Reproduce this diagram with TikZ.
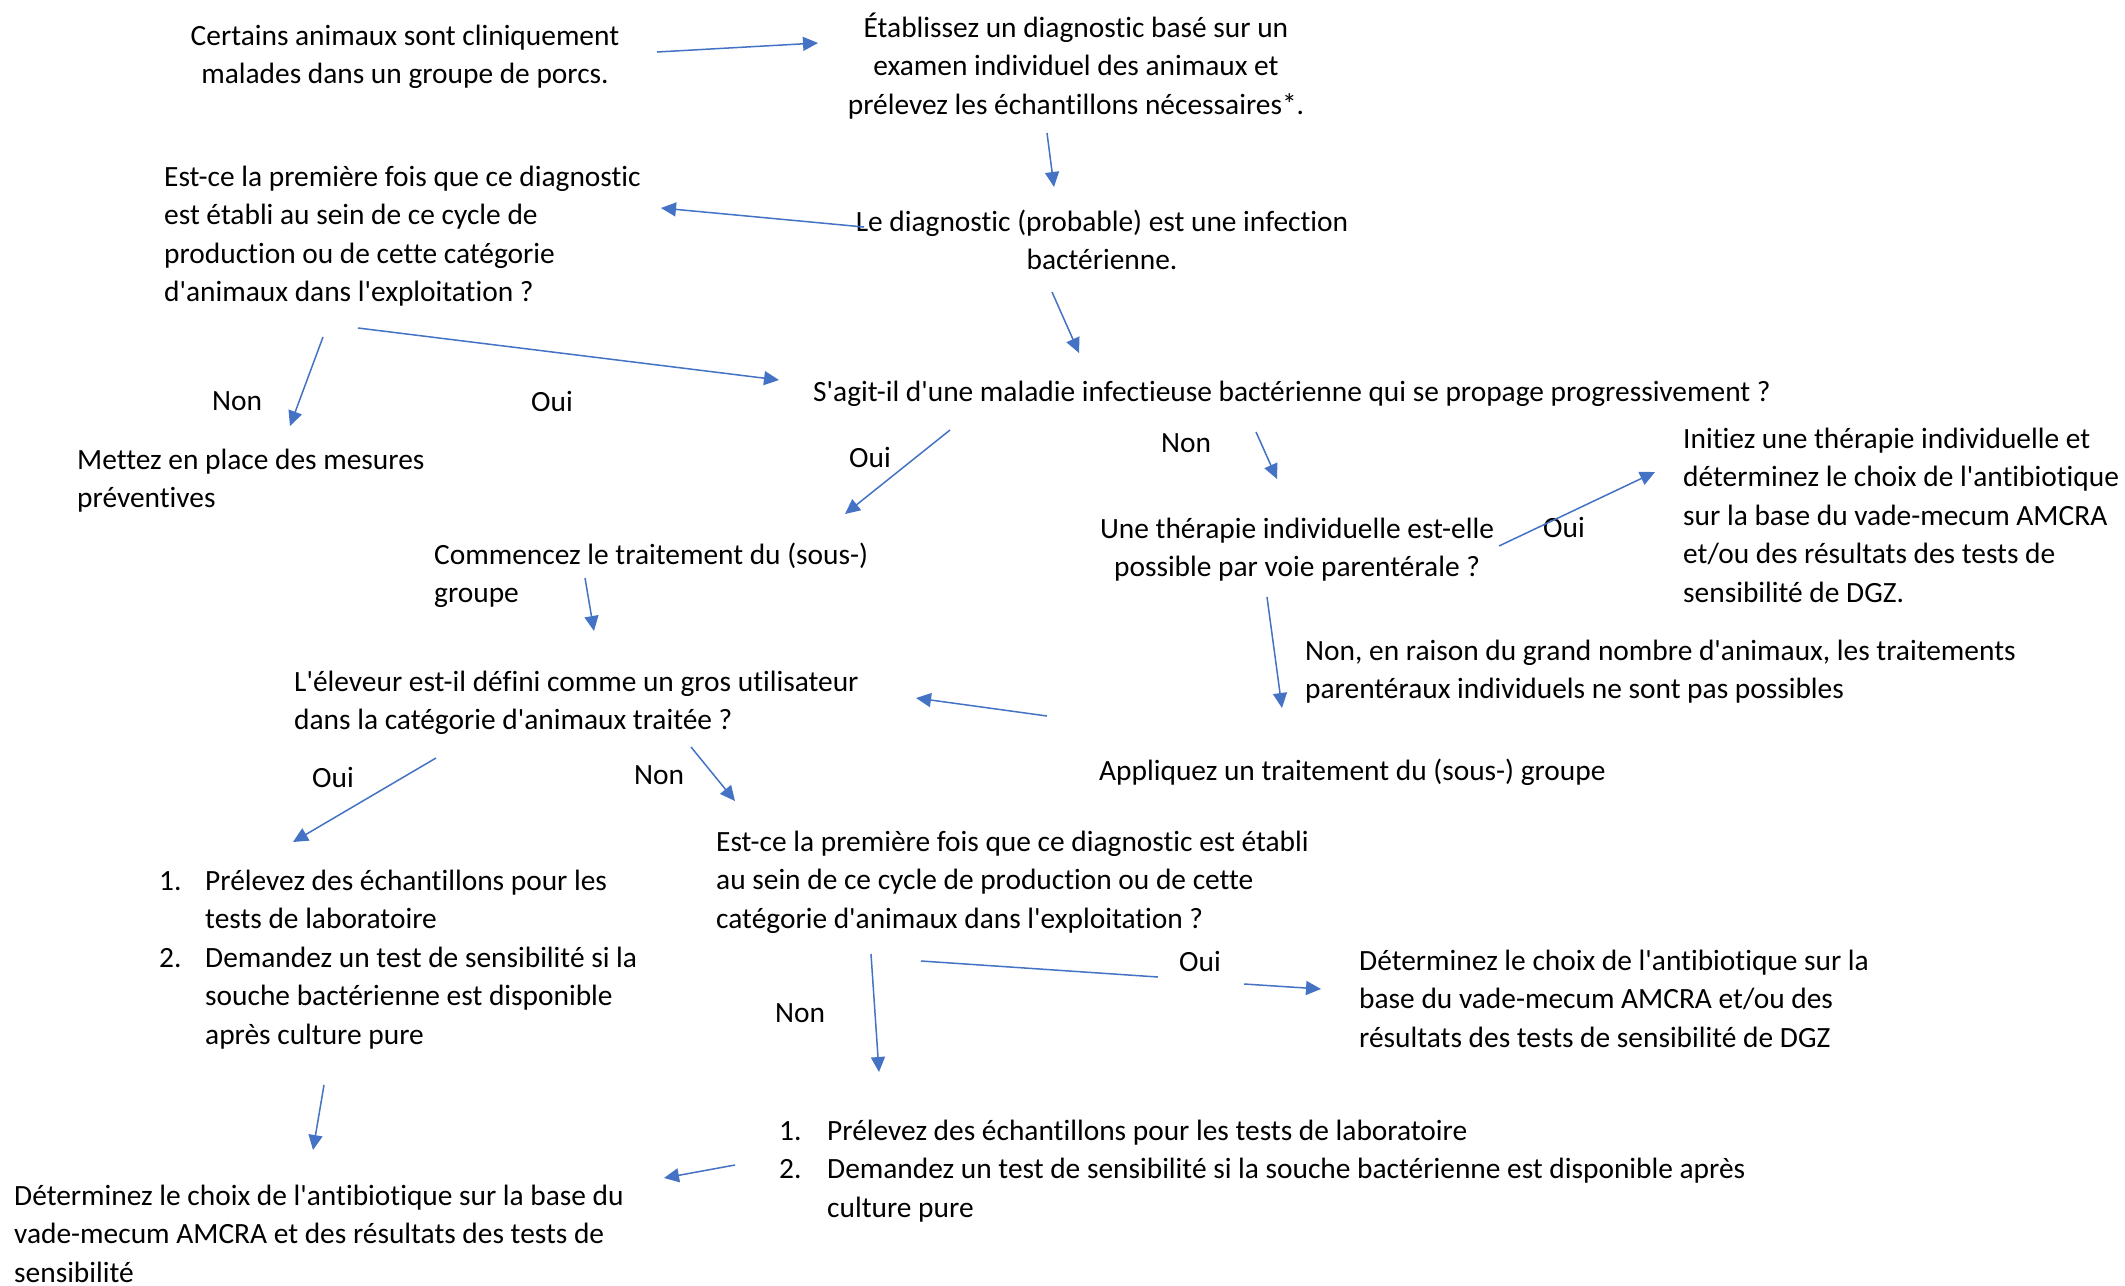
\documentclass[tikz,border=0pt]{standalone}
\usepackage{fontspec}
\setmainfont{Carlito}[Ligatures={TeXOff,NoCommon}]
\usetikzlibrary{arrows.meta}
\definecolor{arrowblue}{HTML}{4472C4}
\tikzset{
  txt/.style={inner sep=0pt, font=\fontsize{29.4pt}{38.6pt}\selectfont, align=left, anchor=base west},
  ctxt/.style={txt, align=center, anchor=base},
  lbl/.style={inner sep=0pt, font=\fontsize{29.4pt}{38.6pt}\selectfont, anchor=center},
  conn/.style={draw=arrowblue, line width=1.5pt, -{Triangle[length=15pt,width=14pt]}},
  plainline/.style={draw=arrowblue, line width=1.5pt},
}
\begin{document}
\begin{tikzpicture}[x=1pt,y=-1pt]
\useasboundingbox[fill=white] (0,0) rectangle (2125,1285);

% text blocks (anchor = baseline of the last line)
\node[ctxt] (n1) at (405,83.6) {Certains animaux sont cliniquement\\malades dans un groupe de porcs.};
\node[ctxt] (n2) at (1076,114.2) {Établissez un diagnostic basé sur un\\examen individuel des animaux et\\prélevez les échantillons nécessaires*.};
\node[ctxt] (n3) at (1102,269.6) {Le diagnostic (probable) est une infection\\bactérienne.};
\node[txt] (n4) at (164,301.8) {Est-ce la première fois que ce diagnostic\\est établi au sein de ce cycle de\\production ou de cette catégorie\\d'animaux dans l'exploitation ?};
\node[txt] (n5) at (813,401) {S'agit-il d'une maladie infectieuse bactérienne qui se propage progressivement ?};
\node[txt] (n6) at (77,507.6) {Mettez en place des mesures\\préventives};
\node[ctxt] (n7) at (1297,576.6) {Une thérapie individuelle est-elle\\possible par voie parentérale ?};
\node[txt] (n8) at (1683,602.4) {Initiez une thérapie individuelle et\\déterminez le choix de l'antibiotique\\sur la base du vade-mecum AMCRA\\et/ou des résultats des tests de\\sensibilité de DGZ.};
\node[txt] (n9) at (1305,698.6) {Non, en raison du grand nombre d'animaux, les traitements\\parentéraux individuels ne sont pas possibles};
\node[txt] (n10) at (1099,780) {Appliquez un traitement du (sous-) groupe};
\node[txt] (n11) at (434,602.6) {Commencez le traitement du (sous-)\\groupe};
\node[txt] (n12) at (294,729.6) {L'éleveur est-il défini comme un gros utilisateur\\dans la catégorie d'animaux traitée ?};
\node[txt] (n13) at (159,1044.4) {\makebox[46pt][l]{1.}Prélevez des échantillons pour les\\\hspace*{46pt}tests de laboratoire\\\makebox[46pt][l]{2.}Demandez un test de sensibilité si la\\\hspace*{46pt}souche bactérienne est disponible\\\hspace*{46pt}après culture pure};
\node[txt] (n14) at (14,1282.2) {Déterminez le choix de l'antibiotique sur la base du\\vade-mecum AMCRA et des résultats des tests de\\sensibilité};
\node[txt] (n15) at (716,928.2) {Est-ce la première fois que ce diagnostic est établi\\au sein de ce cycle de production ou de cette\\catégorie d'animaux dans l'exploitation ?};
\node[txt] (n16) at (1359,1047.2) {Déterminez le choix de l'antibiotique sur la\\base du vade-mecum AMCRA et/ou des\\résultats des tests de sensibilité de DGZ};
\node[txt] (n17) at (779,1217.2) {\makebox[48pt][l]{1.}Prélevez des échantillons pour les tests de laboratoire\\\makebox[48pt][l]{2.}Demandez un test de sensibilité si la souche bactérienne est disponible après\\\hspace*{48pt}culture pure};

% labels
\node[lbl] (l1) at (237,401) {Non};
\node[lbl] (l2) at (552,401) {Oui};
\node[lbl] (l3) at (870,457) {Oui};
\node[lbl] (l4) at (1186,443) {Non};
\node[lbl] (l5) at (1564,527) {Oui};
\node[lbl] (l6) at (333,777) {Oui};
\node[lbl] (l7) at (659,775) {Non};
\node[lbl] (l8) at (800,1013) {Non};
\node[lbl] (l9) at (1200,961) {Oui};

% arrow end points
\coordinate (a1s) at (657,52);   \coordinate (a1e) at (818,43);
\coordinate (a2s) at (1047,133); \coordinate (a2e) at (1054,187);
\coordinate (a3s) at (864,227);  \coordinate (a3e) at (661,208);
\coordinate (a4s) at (1052,292); \coordinate (a4e) at (1079,353);
\coordinate (a5s) at (358,328);  \coordinate (a5e) at (779,380);
\coordinate (a6s) at (323,337);  \coordinate (a6e) at (290,426);
\coordinate (a7s) at (950,430);  \coordinate (a7e) at (845,514);
\coordinate (a8s) at (1256,432); \coordinate (a8e) at (1277,479);
\coordinate (a9s) at (1499,546); \coordinate (a9e) at (1655,472);
\coordinate (a10s) at (1267,597); \coordinate (a10e) at (1282,708);
\coordinate (a11s) at (1047,716); \coordinate (a11e) at (916,698);
\coordinate (a12s) at (585,578);  \coordinate (a12e) at (594,631);
\coordinate (a13s) at (436,758);  \coordinate (a13e) at (293,842);
\coordinate (a14s) at (691,747);  \coordinate (a14e) at (735,801);
\coordinate (a15s) at (324,1085); \coordinate (a15e) at (313,1150);
\coordinate (a16s) at (871,954);  \coordinate (a16e) at (879,1072);
\coordinate (a17s) at (921,961);  \coordinate (a17m) at (1158,977);
\coordinate (a17n) at (1244,984); \coordinate (a17e) at (1321,989);
\coordinate (a18s) at (735,1165); \coordinate (a18e) at (664,1178);

\draw[conn] (a1s) -- (a1e);
\draw[conn] (a2s) -- (a2e);
\draw[conn] (a3s) -- (a3e);
\draw[conn] (a4s) -- (a4e);
\draw[conn] (a5s) -- (a5e);
\draw[conn] (a6s) -- (a6e);
\draw[conn] (a7s) -- (a7e);
\draw[conn] (a8s) -- (a8e);
\draw[conn] (a9s) -- (a9e);
\draw[conn] (a10s) -- (a10e);
\draw[conn] (a11s) -- (a11e);
\draw[conn] (a12s) -- (a12e);
\draw[conn] (a13s) -- (a13e);
\draw[conn] (a14s) -- (a14e);
\draw[conn] (a15s) -- (a15e);
\draw[conn] (a16s) -- (a16e);
\draw[plainline] (a17s) -- (a17m);
\draw[conn] (a17n) -- (a17e);
\draw[conn] (a18s) -- (a18e);
\end{tikzpicture}
\end{document}
